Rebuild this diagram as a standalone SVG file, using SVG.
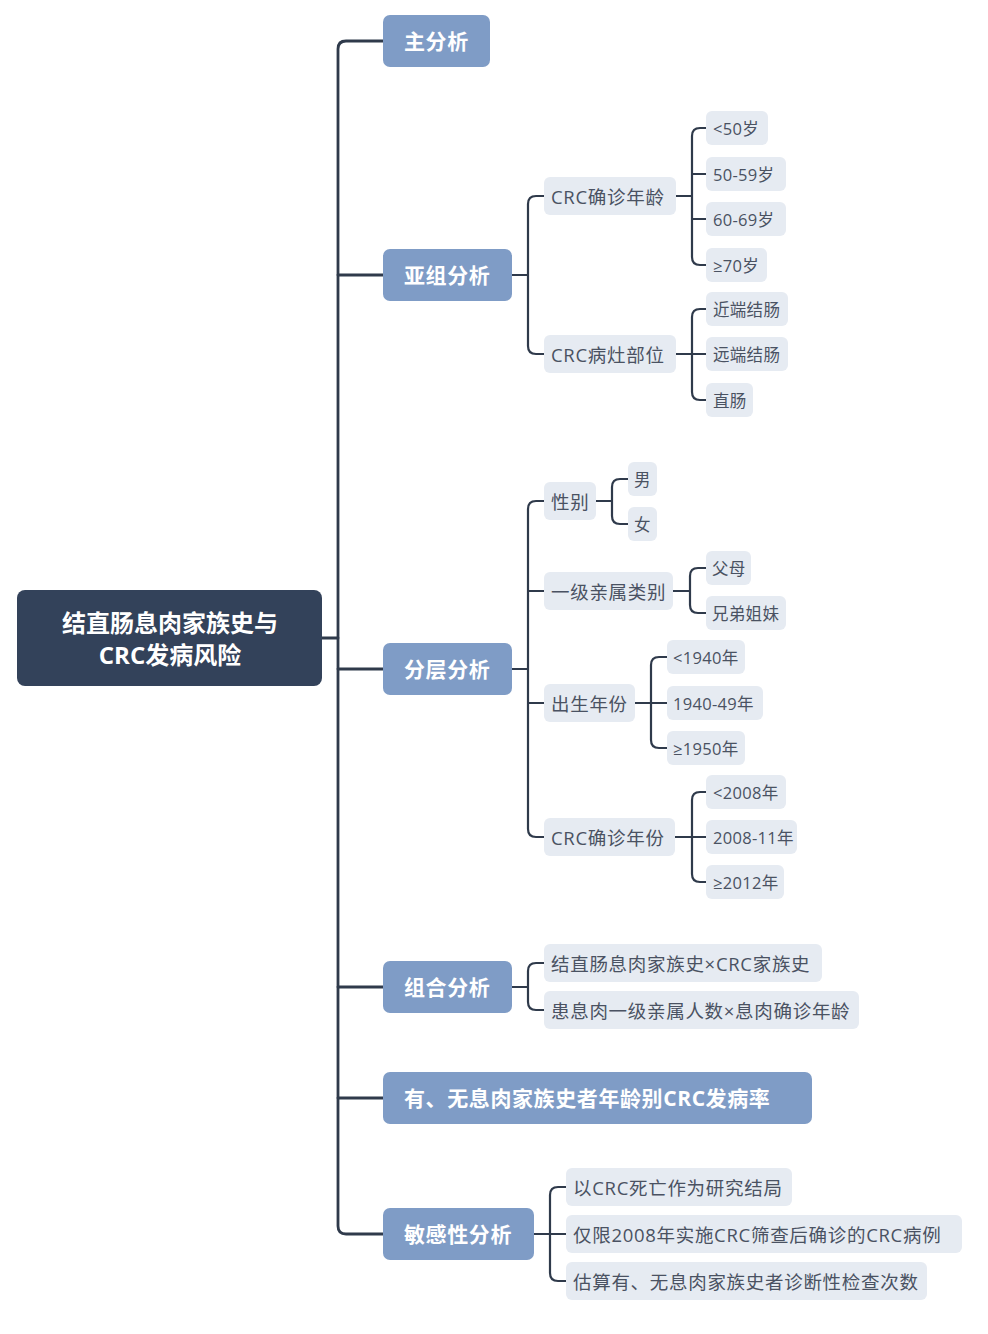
<svg xmlns="http://www.w3.org/2000/svg" width="988" height="1334" viewBox="0 0 988 1334">
<style>
text{font-family:"Open Sans","Noto Sans CJK SC",sans-serif;dominant-baseline:central}
.root rect{fill:#33425a}
.root text{fill:#fff;font-size:24px;font-weight:bold;text-anchor:middle}
.l1 rect{fill:#7f9cc6}
.l1 text{fill:#fff;font-size:21px;font-weight:bold;letter-spacing:0.6px}
.l2 rect{fill:#e6ebf2}
.l2 text{fill:#4a5262;font-size:18.5px;letter-spacing:0.7px}
.l3 rect{fill:#e6ebf2}
.l3 text{fill:#4a5262;font-size:16.5px;letter-spacing:0.3px}
.c path{fill:none;stroke:#2f3a4b;stroke-width:2.2;stroke-linecap:round}
</style>
<rect width="988" height="1334" fill="#fff"/>
<g class="c" id="connectors">
<path d="M322,638 H338" style="stroke-width:2.8"/>
<path d="M383,41 H346 Q338,41 338,49 V1226 Q338,1234 346,1234 H383" style="stroke-width:2.8"/>
<path d="M338,275 H383 M338,669 H383 M338,987 H383 M338,1098 H383" style="stroke-width:2.8"/>
<path d="M512,275 H528 M544,196 H536 Q528,196 528,204 V346 Q528,354 536,354 H544"/>
<path d="M676,196 H692 M706,128 H700 Q692,128 692,136 V257 Q692,265 700,265 H706 M692,174 H706 M692,219 H706"/>
<path d="M676,354 H692 M706,309 H700 Q692,309 692,317 V392 Q692,400 700,400 H706 M692,354 H706"/>
<path d="M512,669 H528 M544,501 H536 Q528,501 528,509 V829 Q528,837 536,837 H544 M528,591 H544 M528,703 H544"/>
<path d="M596,501 H612 M628,479 H620 Q612,479 612,487 V516 Q612,524 620,524 H628"/>
<path d="M673,591 H690 M706,568 H698 Q690,568 690,576 V605 Q690,613 698,613 H706"/>
<path d="M635,703 H651 M667,657 H659 Q651,657 651,665 V740 Q651,748 659,748 H667 M651,703 H667"/>
<path d="M675,837 H692 M706,792 H700 Q692,792 692,800 V874 Q692,882 700,882 H706 M692,837 H706"/>
<path d="M512,987 H528 M544,963 H536 Q528,963 528,971 V1002 Q528,1010 536,1010 H544"/>
<path d="M534,1234 H550 M566,1187 H558 Q550,1187 550,1195 V1273 Q550,1281 558,1281 H566 M550,1234 H566"/>
</g>
<g id="root" class="root"><rect x="17" y="590" width="305" height="96" rx="8"/><text x="170" y="622">结直肠息肉家族史与</text><text x="170" y="654">CRC发病风险</text></g>
<g id="n-main" class="l1"><rect x="383" y="15" width="107" height="52" rx="7"/><text x="404" y="41">主分析</text></g>
<g id="n-sub" class="l1"><rect x="383" y="249" width="129" height="52" rx="7"/><text x="404" y="275">亚组分析</text></g>
<g id="n-strat" class="l1"><rect x="383" y="643" width="129" height="52" rx="7"/><text x="404" y="669">分层分析</text></g>
<g id="n-comb" class="l1"><rect x="383" y="961" width="129" height="52" rx="7"/><text x="404" y="987">组合分析</text></g>
<g id="n-inc" class="l1"><rect x="383" y="1072" width="429" height="52" rx="7"/><text x="404" y="1098">有、无息肉家族史者年龄别CRC发病率</text></g>
<g id="n-sens" class="l1"><rect x="383" y="1208" width="151" height="52" rx="7"/><text x="404" y="1234">敏感性分析</text></g>
<g id="n-age" class="l2"><rect x="544" y="177" width="132" height="38" rx="6"/><text x="551" y="196">CRC确诊年龄</text></g>
<g id="n-site" class="l2"><rect x="544" y="335" width="132" height="38" rx="6"/><text x="551" y="354">CRC病灶部位</text></g>
<g id="n-sex" class="l2"><rect x="544" y="482" width="52" height="38" rx="6"/><text x="551" y="501">性别</text></g>
<g id="n-rel" class="l2"><rect x="544" y="572" width="129" height="38" rx="6"/><text x="551" y="591">一级亲属类别</text></g>
<g id="n-birth" class="l2"><rect x="544" y="684" width="91" height="38" rx="6"/><text x="551" y="703">出生年份</text></g>
<g id="n-dxyear" class="l2"><rect x="544" y="818" width="131" height="38" rx="6"/><text x="551" y="837">CRC确诊年份</text></g>
<g id="n-comb1" class="l2"><rect x="544" y="944" width="278" height="38" rx="6"/><text x="551" y="963">结直肠息肉家族史×CRC家族史</text></g>
<g id="n-comb2" class="l2"><rect x="544" y="991" width="315" height="38" rx="6"/><text x="551" y="1010">患息肉一级亲属人数×息肉确诊年龄</text></g>
<g id="n-sens1" class="l2"><rect x="566" y="1168" width="226" height="38" rx="6"/><text x="573" y="1187">以CRC死亡作为研究结局</text></g>
<g id="n-sens2" class="l2"><rect x="566" y="1215" width="396" height="38" rx="6"/><text x="573" y="1234">仅限2008年实施CRC筛查后确诊的CRC病例</text></g>
<g id="n-sens3" class="l2"><rect x="566" y="1262" width="361" height="38" rx="6"/><text x="573" y="1281">估算有、无息肉家族史者诊断性检查次数</text></g>
<g id="n-a1" class="l3"><rect x="706" y="111" width="62" height="34" rx="6"/><text x="713" y="128">&lt;50岁</text></g>
<g id="n-a2" class="l3"><rect x="706" y="157" width="80" height="34" rx="6"/><text x="713" y="174">50-59岁</text></g>
<g id="n-a3" class="l3"><rect x="706" y="202" width="80" height="34" rx="6"/><text x="713" y="219">60-69岁</text></g>
<g id="n-a4" class="l3"><rect x="706" y="248" width="61" height="34" rx="6"/><text x="713" y="265">≥70岁</text></g>
<g id="n-s1" class="l3"><rect x="706" y="292" width="82" height="34" rx="6"/><text x="713" y="309">近端结肠</text></g>
<g id="n-s2" class="l3"><rect x="706" y="337" width="82" height="34" rx="6"/><text x="713" y="354">远端结肠</text></g>
<g id="n-s3" class="l3"><rect x="706" y="383" width="47" height="34" rx="6"/><text x="713" y="400">直肠</text></g>
<g id="n-m" class="l3"><rect x="628" y="462" width="29" height="34" rx="6"/><text x="634" y="479">男</text></g>
<g id="n-f" class="l3"><rect x="628" y="507" width="29" height="34" rx="6"/><text x="634" y="524">女</text></g>
<g id="n-par" class="l3"><rect x="706" y="551" width="45" height="34" rx="6"/><text x="712" y="568">父母</text></g>
<g id="n-sib" class="l3"><rect x="706" y="596" width="80" height="34" rx="6"/><text x="712" y="613">兄弟姐妹</text></g>
<g id="n-b1" class="l3"><rect x="667" y="640" width="78" height="34" rx="6"/><text x="673" y="657">&lt;1940年</text></g>
<g id="n-b2" class="l3"><rect x="667" y="686" width="96" height="34" rx="6"/><text x="673" y="703">1940-49年</text></g>
<g id="n-b3" class="l3"><rect x="667" y="731" width="78" height="34" rx="6"/><text x="673" y="748">≥1950年</text></g>
<g id="n-y1" class="l3"><rect x="706" y="775" width="80" height="34" rx="6"/><text x="713" y="792">&lt;2008年</text></g>
<g id="n-y2" class="l3"><rect x="706" y="820" width="91" height="34" rx="6"/><text x="713" y="837">2008-11年</text></g>
<g id="n-y3" class="l3"><rect x="706" y="865" width="78" height="34" rx="6"/><text x="713" y="882">≥2012年</text></g>
</svg>
